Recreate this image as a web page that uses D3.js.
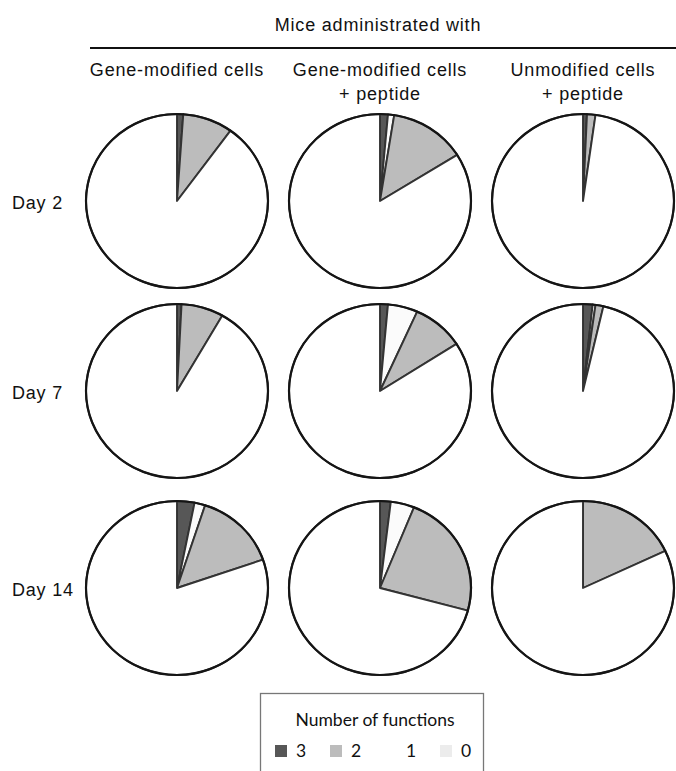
<!DOCTYPE html>
<html>
<head>
<meta charset="utf-8">
<script src="https://cdn.jsdelivr.net/npm/d3@7"></script>
<style>
  html, body { margin: 0; padding: 0; background: #fff; }
  svg { display: block; }
  .hdr { font-family: "Liberation Sans", Arial, sans-serif; font-size: 18px; letter-spacing: 0.8px; fill: #111; }
  .leg { font-family: Lato, "Open Sans", sans-serif; font-size: 17.5px; fill: #111; }
</style>
</head>
<body>
<svg id="chart" width="676" height="771"></svg>
<script>
// ── Data ─────────────────────────────────────────────────────────────────────
const days   = ['Day 2', 'Day 7', 'Day 14'];
const groups = ['gm', 'gmPep', 'unPep'];
const groupLabels = [
    ['Gene-modified cells'],
    ['Gene-modified cells', '+ peptide'],
    ['Unmodified cells', '+ peptide']
];
const title = 'Mice administrated with';
const legendTitle = 'Number of functions';
const legendKeys  = ['3', '2', '1', '0'];

// % of cells per number of functions, [day][group]
const funcs3 = [[1.1, 1.4, 0.7], [0.8, 1.4, 1.7], [3.1, 1.9, 0.0]];
const funcs0 = [[0.0, 1.1, 0.0], [0.0, 5.3, 0.5], [1.9, 4.2, 0.0]];
const funcs2 = [[8.9, 13.6, 1.5], [7.5, 9.2, 1.4], [14.7, 23.1, 18.0]];
const funcs1 = [[90.0, 83.9, 97.8], [91.7, 84.1, 96.4], [80.3, 70.8, 82.0]];

// slice order clockwise from 12 o'clock
const sliceOrder = ['3', '0', '2', '1'];
const FILL = { '3': '#575757', '2': '#bcbcbc', '1': '#ffffff', '0': '#fbfbfb' };

// ── Layout ───────────────────────────────────────────────────────────────────
const RX = 91, RY = 87;
const svg = d3.select('#chart');
svg.append('rect').attr('width', 676).attr('height', 771).attr('fill', '#fff');

const x = d3.scalePoint().domain(groups).range([177, 583]);
const y = d3.scaleOrdinal().domain(days).range([201, 391, 588]);

// title + rule
svg.append('text').attr('class', 'hdr')
    .attr('x', 378).attr('y', 31).attr('text-anchor', 'middle')
    .text(title);
svg.append('line')
    .attr('x1', 90).attr('x2', 676).attr('y1', 48).attr('y2', 48)
    .attr('stroke', '#111').attr('stroke-width', 2);

// column headers
groups.forEach((g, gi) => {
    groupLabels[gi].forEach((line, li) => {
        svg.append('text').attr('class', 'hdr')
            .attr('x', x(g)).attr('y', 76 + li * 24)
            .attr('text-anchor', 'middle')
            .text(line);
    });
});

// row labels
days.forEach(d => {
    svg.append('text').attr('class', 'hdr')
        .attr('x', 12).attr('y', y(d) + 8)
        .text(d);
});

// ── Pies ─────────────────────────────────────────────────────────────────────
const pie = d3.pie().sort(null).value(d => d.v);
const arc = d3.arc().innerRadius(0).outerRadius(RX);
const byKey = { '3': funcs3, '2': funcs2, '1': funcs1, '0': funcs0 };

days.forEach((d, di) => {
    groups.forEach((g, gi) => {
        const slices = sliceOrder.map(k => ({ k, v: byKey[k][di][gi] }));
        const pg = svg.append('g')
            .attr('transform', `translate(${x(g)},${y(d)}) scale(1,${RY / RX})`);

        pg.selectAll('path')
            .data(pie(slices))
            .join('path')
            .attr('d', arc)
            .attr('fill', s => FILL[s.data.k])
            .attr('stroke', '#333')
            .attr('stroke-width', 1.9)
            .attr('stroke-linejoin', 'round')
            .attr('vector-effect', 'non-scaling-stroke');

        pg.append('circle')
            .attr('r', RX)
            .attr('fill', 'none')
            .attr('stroke', '#151515')
            .attr('stroke-width', 2.2)
            .attr('vector-effect', 'non-scaling-stroke');
    });
});

// ── Legend ───────────────────────────────────────────────────────────────────
const lg = svg.append('g');
lg.append('rect')
    .attr('x', 260.5).attr('y', 693.5).attr('width', 223).attr('height', 90)
    .attr('fill', '#fff').attr('stroke', '#777').attr('stroke-width', 1.3);
lg.append('text').attr('class', 'leg')
    .attr('x', 375).attr('y', 726).attr('text-anchor', 'middle')
    .text(legendTitle);

const lx = d3.scalePoint().domain(legendKeys).range([275, 440]);
legendKeys.forEach(k => {
    lg.append('rect')
        .attr('x', lx(k)).attr('y', 745).attr('width', 12).attr('height', 12)
        .attr('fill', k === '0' ? '#ececec' : FILL[k]);
    lg.append('text').attr('class', 'leg')
        .attr('x', lx(k) + 21).attr('y', 757)
        .text(k);
});
</script>
</body>
</html>
